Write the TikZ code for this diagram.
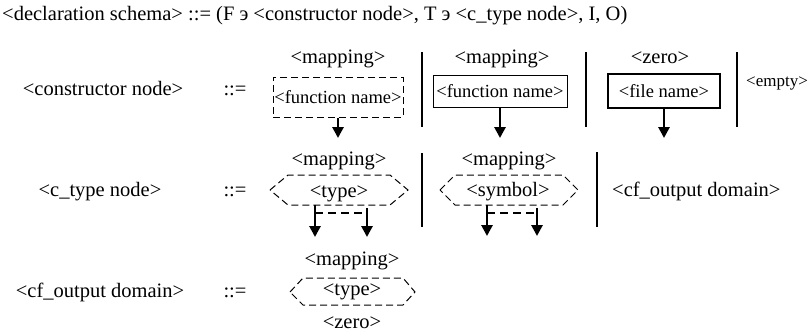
\documentclass[tikz,border=0pt]{standalone}
\usepackage{fontspec}
\setmainfont{Liberation Serif}
\usetikzlibrary{arrows.meta}
\begin{document}
\begin{tikzpicture}[x=1pt,y=-1pt,
  big/.style={font=\fontsize{20.5}{25}\selectfont, inner sep=0pt, anchor=base},
  small/.style={font=\fontsize{18.5}{22}\selectfont, inner sep=0pt},
  bar/.style={line width=2pt},
  arr/.style={line width=2.8pt, -{Triangle[length=11pt,width=11pt]}},
  dsh/.style={line width=1pt, dash pattern=on 7pt off 4pt},
]
\useasboundingbox (0,0) rectangle (812,333);
\node[big, anchor=base west] (title) at (2,20) {<declaration schema> ::= (F э <constructor node>, T э <c\_type node>, I, O)};

% left column
\node[big] (cn) at (103,95) {<constructor node>};
\node[big] (eq1) at (235,95) {::=};
\node[big] (ct) at (100,196) {<c\_type node>};
\node[big] (eq2) at (235,196) {::=};
\node[big] (cf) at (100,297) {<cf\_output domain>};
\node[big] (eq3) at (235,297) {::=};

% row 1
\node[big] (m1) at (338,63) {<mapping>};
\node[small, draw, dsh, minimum width=130pt, minimum height=40pt] (f1) at (338,97) {<function name>};
\coordinate (a1) at (338,138);
\draw[arr] (f1.south) -- (a1);
\coordinate (b1t) at (422,52); \coordinate (b1b) at (422,127);
\draw[bar] (b1t) -- (b1b);

\node[big] (m2) at (502,63) {<mapping>};
\node[small, draw, line width=0.8pt, minimum width=134pt, minimum height=32pt] (f2) at (500,91) {<function name>};
\coordinate (a2) at (500,138);
\draw[arr] (f2.south) -- (a2);
\coordinate (b2t) at (586,52); \coordinate (b2b) at (586,127);
\draw[bar] (b2t) -- (b2b);

\node[big] (z1) at (660,63) {<zero>};
\node[small, draw, line width=2.5pt, minimum width=112pt, minimum height=34pt] (fn) at (664,91) {<file name>};
\coordinate (a3) at (664,138);
\draw[arr] (fn.south) -- (a3);
\coordinate (b3t) at (737,52); \coordinate (b3b) at (737,127);
\draw[bar] (b3t) -- (b3b);
\node[font=\fontsize{17}{20}\selectfont, inner sep=0pt] (em) at (777,83) {<empty>};

% row 2
\node[big] (m3) at (339,165) {<mapping>};
\node[big] (ty1) at (339,197) {<type>};
\draw[dsh] (270,190) -- (288,175) -- (390,175) -- (408,190) -- (390,205) -- (288,205) -- cycle;
\coordinate (h1a) at (315,205); \coordinate (h1b) at (315,237);
\coordinate (h1c) at (367,208); \coordinate (h1d) at (367,237);
\coordinate (h1e) at (315,213); \coordinate (h1f) at (367,213);
\draw[arr] (h1a) -- (h1b);
\draw[arr] (h1c) -- (h1d);
\draw[line width=1.8pt, dash pattern=on 8pt off 5pt] (h1e) -- (h1f);
\coordinate (b4t) at (422,153); \coordinate (b4b) at (422,227);
\draw[bar] (b4t) -- (b4b);

\node[big] (m4) at (509,165) {<mapping>};
\node[big] (sy) at (508,196) {<symbol>};
\draw[dsh] (440,190) -- (455,175) -- (563,175) -- (578,190) -- (563,205) -- (455,205) -- cycle;
\coordinate (h2a) at (487,205); \coordinate (h2b) at (487,236);
\coordinate (h2c) at (537,208); \coordinate (h2d) at (537,236);
\coordinate (h2e) at (487,213); \coordinate (h2f) at (537,213);
\draw[arr] (h2a) -- (h2b);
\draw[arr] (h2c) -- (h2d);
\draw[line width=1.8pt, dash pattern=on 8pt off 5pt] (h2e) -- (h2f);
\coordinate (b5t) at (597,152); \coordinate (b5b) at (597,227);
\draw[bar] (b5t) -- (b5b);
\node[big, anchor=base west] (cfo) at (612,196) {<cf\_output domain>};

% row 3
\node[big] (m5) at (352,265) {<mapping>};
\node[big] (ty2) at (352,295) {<type>};
\draw[dsh] (290,292) -- (303,278) -- (403,278) -- (415,292) -- (403,305) -- (303,305) -- cycle;
\node[big] (z2) at (352,328) {<zero>};
\end{tikzpicture}
\end{document}
